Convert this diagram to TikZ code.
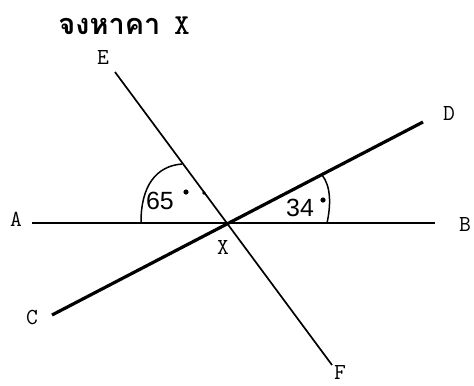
\documentclass[tikz,border=0pt]{standalone}
\usepackage{fontspec}
\newfontfamily\thaifont[Script=Thai]{Loma}
\newfontfamily\handfont{Liberation Sans}
\usetikzlibrary{positioning}

\begin{document}
\begin{tikzpicture}[
    x=1bp, y=-1bp,
    lbl/.style={
        inner sep=0pt,
        font=\ttfamily\fontsize{23}{23}\selectfont
    },
    angnum/.style={
        inner sep=0pt,
        font=\handfont\fontsize{25}{25}\selectfont
    },
    ray/.style={line width=1.7bp},
    bigray/.style={line width=3.2bp},
    angarc/.style={line width=1.5bp}
]
\useasboundingbox (0,0) rectangle (474,385);

% Title
\node (title) [inner sep=0pt, font=\fontsize{29}{29}\selectfont] at (124,26)
    {{\thaifont\bfseries จงหาคา}\hspace{14bp}{\ttfamily\bfseries X}};

% Points
\coordinate (x) at (228,223);
\coordinate (a) at (32,223);
\coordinate (b) at (435,223);
\coordinate (c) at (52,315);
\coordinate (d) at (423,122);
\coordinate (e) at (115,72);
\coordinate (f) at (332,365);

% Lines
\draw[ray] (a) -- (b);
\draw[ray] (e) -- (f);
\draw[bigray] (c) -- (d);

% Labels
\node (lblA) [lbl] at (16,219) {A};
\node (lblB) [lbl] at (465,224) {B};
\node (lblC) [lbl] at (32,317) {C};
\node (lblD) [lbl] at (449,113) {D};
\node (lblE) [lbl] at (103,57) {E};
\node (lblF) [lbl] at (340,372) {F};
\node (lblX) [lbl, below=17bp of x, xshift=-5bp] {X};

% Angle marks
\draw[angarc] (141,222) .. controls (141,186) and (156,166) .. (182,164);
\draw[angarc] (327,223) .. controls (331,205) and (331,186) .. (322,175);
\node (ang65) [angnum] at (160,201) {65};
\node (ang34) [angnum] at (300,208) {34};
\fill (186,192) circle (2.6bp);
\fill (204,193) circle (1.8bp);
\fill (323,200) circle (2.6bp);

\end{tikzpicture}
\end{document}
